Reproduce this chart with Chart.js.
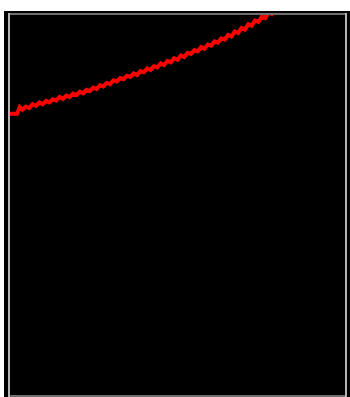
<!DOCTYPE html>
<html>
<head>
<meta charset="utf-8">
<style>
  html, body { margin: 0; padding: 0; background: #ffffff; }
  #wrap { width: 350px; height: 397px; position: relative; }
  canvas { display: block; }
</style>
<script src="https://cdn.jsdelivr.net/npm/chart.js@4/dist/chart.umd.min.js"></script>
</head>
<body>
<div id="wrap"><canvas id="c" width="350" height="397"></canvas></div>
<script>
// Series (arbitrary units; axes are unlabeled)
const xValues = [0, 2.4, 3.2, 4.0, 5, 6, 7, 8, 9, 10, 11, 12, 13, 14, 15, 16, 17, 18, 19, 20,
  21, 22, 23, 24, 25, 26, 27, 28, 29, 30, 31, 32, 33, 34, 35, 36, 37, 38, 39, 40,
  41, 42, 43, 44, 45, 46, 47, 48, 49, 50, 51, 52, 53, 54, 55, 56, 57, 58, 59, 60,
  61, 62, 63, 64, 65, 66, 67, 68, 69, 70, 71, 72, 73, 74, 75, 76, 77, 78, 79, 80];
const yValues = [73.8, 73.8, 75.6, 74.9, 75.7, 75.3, 76.3, 75.9, 76.8, 76.3, 77.2, 76.8, 77.6, 77.3, 78.2, 77.7, 78.6, 78.2, 79.1, 78.7,
  79.6, 79.2, 80.1, 79.8, 80.7, 80.3, 81.3, 81.0, 81.9, 81.6, 82.6, 82.3, 83.2, 82.9, 83.8, 83.5, 84.4, 84.0, 85.0, 84.7,
  85.7, 85.3, 86.3, 86.0, 87.0, 86.6, 87.7, 87.3, 88.4, 88.0, 89.1, 88.7, 89.8, 89.5, 90.5, 90.2, 91.3, 90.9, 92.0, 91.7,
  92.8, 92.5, 93.6, 93.3, 94.5, 94.1, 95.4, 95.0, 96.3, 95.9, 97.3, 96.9, 98.3, 97.9, 99.3, 98.9, 100.4, 100.0, 101.5, 102.2];
const xRange = [0, 100];
const yRange = [0, 100];

const points = xValues.map((x, i) => ({ x: x, y: yValues[i] }));

const framePlugin = {
  id: 'frame',
  beforeDraw(chart) {
    const ctx = chart.ctx;
    ctx.save();
    ctx.fillStyle = '#ffffff';
    ctx.fillRect(0, 0, chart.width, chart.height);
    ctx.fillStyle = '#000000';
    ctx.fillRect(4, 11, chart.width - 4, chart.height - 11);
    ctx.restore();
  },
  afterDraw(chart) {
    const a = chart.chartArea;
    const ctx = chart.ctx;
    ctx.save();
    ctx.fillStyle = '#6e6e6e';
    ctx.fillRect(a.left - 1, a.top - 1, a.right - a.left + 1, 2);
    ctx.fillRect(a.left - 1, a.bottom, a.right - a.left + 1, 2);
    ctx.fillStyle = '#b4b4b4';
    ctx.fillRect(a.left - 1, a.top - 1, 2, a.bottom - a.top + 3);
    ctx.fillRect(a.right - 1, a.top - 1, 2, a.bottom - a.top + 3);
    ctx.restore();
  }
};

new Chart(document.getElementById('c'), {
  type: 'line',
  data: {
    datasets: [{
      data: points,
      borderColor: '#ff0000',
      borderWidth: 4,
      pointRadius: 0,
      tension: 0,
      fill: false
    }]
  },
  options: {
    responsive: false,
    animation: false,
    devicePixelRatio: 1,
    layout: { padding: { left: 9, top: 14, right: 4, bottom: 2 } },
    plugins: { legend: { display: false }, tooltip: { enabled: false } },
    scales: {
      x: { type: 'linear', min: xRange[0], max: xRange[1], display: false },
      y: { type: 'linear', min: yRange[0], max: yRange[1], display: false }
    }
  },
  plugins: [framePlugin]
});
</script>
</body>
</html>
